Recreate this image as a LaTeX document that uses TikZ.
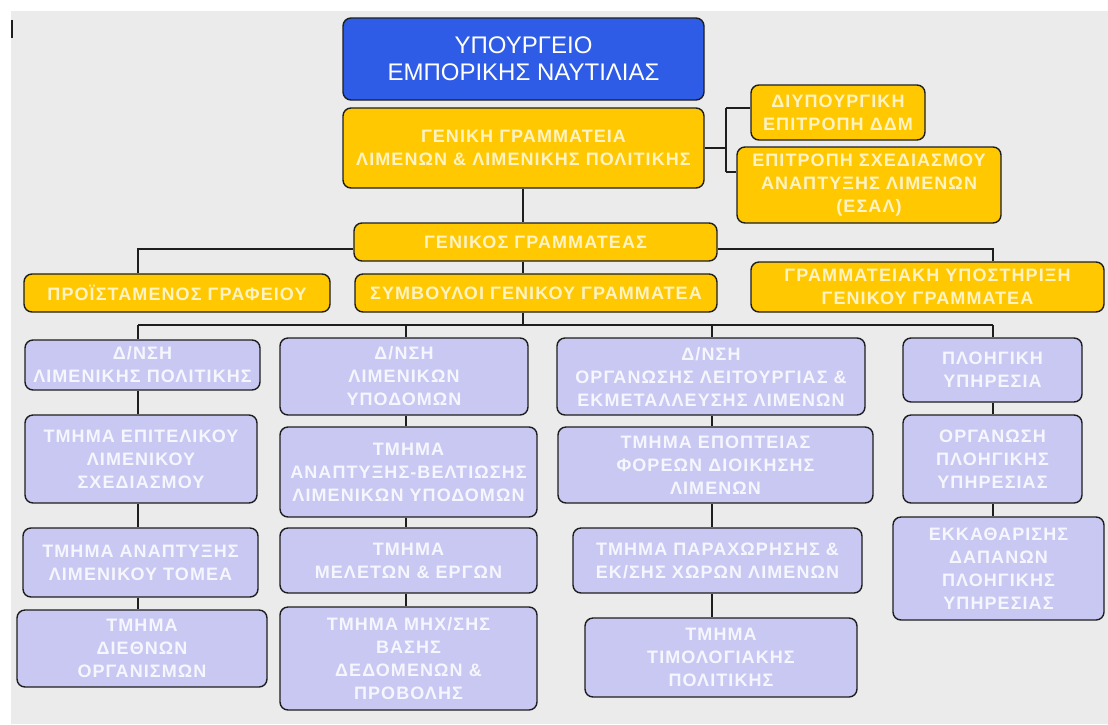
\documentclass[tikz,border=0pt]{standalone}
\usepackage{fontspec}
\setmainfont{Liberation Sans}
\newfontfamily\boxfont[LetterSpace=6]{Liberation Sans}
\usepackage{tikz}

\definecolor{bg}{HTML}{EBEBEB}
\definecolor{edge}{HTML}{1E1E1E}
\definecolor{royal}{HTML}{2E5CE6}
\definecolor{gold}{HTML}{FFC800}
\definecolor{goldtxt}{HTML}{FFF3C4}
\definecolor{lav}{HTML}{C8C8F2}
\definecolor{lavtxt}{HTML}{F6F6FF}

\begin{document}
\begin{tikzpicture}[x=1pt, y=-1pt, base/.style={draw=edge, line width=1.4pt, rounded corners=8pt, align=center, inner sep=2pt}, sz/.style 2 args={minimum width=#1pt, minimum height=#2pt}, mini/.style={base, fill=royal, text=white, font=\fontsize{24}{27}\selectfont}, gold/.style={base, fill=gold, text=goldtxt, font=\boxfont\bfseries\fontsize{18}{23}\selectfont}, lav/.style={base, fill=lav, text=lavtxt, font=\boxfont\bfseries\fontsize{18}{23}\selectfont}, n/.style={draw=edge, line width=1.3pt}]
            \useasboundingbox (0,0) rectangle (1108,724);
            \fill[white] (0,0) rectangle (1108,724);
            \fill[bg] (11,11) rectangle (1108,724);
            \draw[edge, line width=2pt] (12,20) -- (12,38);
            % nodes
            \node[mini, sz={361}{82}] (minis) at (523.5,59) {ΥΠΟΥΡΓΕΙΟ\\ΕΜΠΟΡΙΚΗΣ ΝΑΥΤΙΛΙΑΣ};
            \node[gold, sz={361}{80}] (gg) at (523.5,148) {ΓΕΝΙΚΗ ΓΡΑΜΜΑΤΕΙΑ\\ΛΙΜΕΝΩΝ \& ΛΙΜΕΝΙΚΗΣ ΠΟΛΙΤΙΚΗΣ};
            \node[gold, sz={174}{55}] (diy) at (838,112.5) {ΔΙΥΠΟΥΡΓΙΚΗ\\ΕΠΙΤΡΟΠΗ ΔΔΜ};
            \node[gold, sz={264}{76}] (esal) at (869,185) {ΕΠΙΤΡΟΠΗ ΣΧΕΔΙΑΣΜΟΥ\\ΑΝΑΠΤΥΞΗΣ ΛΙΜΕΝΩΝ\\(ΕΣΑΛ)};
            \node[gold, sz={363}{38}] (gs) at (535.5,242) {ΓΕΝΙΚΟΣ ΓΡΑΜΜΑΤΕΑΣ};
            \node[gold, sz={306}{38}] (proist) at (177,293) {ΠΡΟΪΣΤΑΜΕΝΟΣ ΓΡΑΦΕΙΟΥ};
            \node[gold, sz={362}{38}] (symv) at (536,293) {ΣΥΜΒΟΥΛΟΙ ΓΕΝΙΚΟΥ ΓΡΑΜΜΑΤΕΑ};
            \node[gold, sz={353}{50}] (gramm) at (927.5,287) {ΓΡΑΜΜΑΤΕΙΑΚΗ ΥΠΟΣΤΗΡΙΞΗ\\ΓΕΝΙΚΟΥ ΓΡΑΜΜΑΤΕΑ};
            \node[lav, sz={235}{50}] (c1a) at (142.5,365) {Δ/ΝΣΗ\\ΛΙΜΕΝΙΚΗΣ ΠΟΛΙΤΙΚΗΣ};
            \node[lav, sz={232}{88}] (c1b) at (141,459) {ΤΜΗΜΑ ΕΠΙΤΕΛΙΚΟΥ\\ΛΙΜΕΝΙΚΟΥ\\ΣΧΕΔΙΑΣΜΟΥ};
            \node[lav, sz={235}{69}] (c1c) at (140.5,562.5) {ΤΜΗΜΑ ΑΝΑΠΤΥΞΗΣ\\ΛΙΜΕΝΙΚΟΥ ΤΟΜΕΑ};
            \node[lav, sz={250}{77}] (c1d) at (142,648.5) {ΤΜΗΜΑ\\ΔΙΕΘΝΩΝ\\ΟΡΓΑΝΙΣΜΩΝ};
            \node[lav, sz={248}{77}] (c2a) at (404,376.5) {Δ/ΝΣΗ\\ΛΙΜΕΝΙΚΩΝ\\ΥΠΟΔΟΜΩΝ};
            \node[lav, sz={257}{90}] (c2b) at (408.5,472) {ΤΜΗΜΑ\\ΑΝΑΠΤΥΞΗΣ-ΒΕΛΤΙΩΣΗΣ\\ΛΙΜΕΝΙΚΩΝ ΥΠΟΔΟΜΩΝ};
            \node[lav, sz={257}{65}] (c2c) at (408.5,560.5) {ΤΜΗΜΑ\\ΜΕΛΕΤΩΝ \& ΕΡΓΩΝ};
            \node[lav, sz={257}{103}] (c2d) at (408.5,658.5) {ΤΜΗΜΑ ΜΗΧ/ΣΗΣ\\ΒΑΣΗΣ\\ΔΕΔΟΜΕΝΩΝ \&\\ΠΡΟΒΟΛΗΣ};
            \node[lav, sz={308}{77}] (c3a) at (711,376.5) {Δ/ΝΣΗ\\ΟΡΓΑΝΩΣΗΣ ΛΕΙΤΟΥΡΓΙΑΣ \&\\ΕΚΜΕΤΑΛΛΕΥΣΗΣ ΛΙΜΕΝΩΝ};
            \node[lav, sz={315}{76}] (c3b) at (715.5,465) {ΤΜΗΜΑ ΕΠΟΠΤΕΙΑΣ\\ΦΟΡΕΩΝ ΔΙΟΙΚΗΣΗΣ\\ΛΙΜΕΝΩΝ};
            \node[lav, sz={289}{65}] (c3c) at (717.5,560.5) {ΤΜΗΜΑ ΠΑΡΑΧΩΡΗΣΗΣ \&\\ΕΚ/ΣΗΣ ΧΩΡΩΝ ΛΙΜΕΝΩΝ};
            \node[lav, sz={272}{79}] (c3d) at (721,657.5) {ΤΜΗΜΑ\\ΤΙΜΟΛΟΓΙΑΚΗΣ\\ΠΟΛΙΤΙΚΗΣ};
            \node[lav, sz={179}{64}] (c4a) at (992.5,370) {ΠΛΟΗΓΙΚΗ\\ΥΠΗΡΕΣΙΑ};
            \node[lav, sz={179}{88}] (c4b) at (992.5,459) {ΟΡΓΑΝΩΣΗ\\ΠΛΟΗΓΙΚΗΣ\\ΥΠΗΡΕΣΙΑΣ};
            \node[lav, sz={211}{103}] (c4c) at (998.5,568.5) {ΕΚΚΑΘΑΡΙΣΗΣ\\ΔΑΠΑΝΩΝ\\ΠΛΟΗΓΙΚΗΣ\\ΥΠΗΡΕΣΙΑΣ};
            % junctions
            \coordinate (j1) at (726,148);
            \coordinate (j2) at (726,108);
            \coordinate (j3) at (726,172);
            \coordinate (g1) at (138,249);
            \coordinate (g2) at (993,249);
            \coordinate (sp) at (523,325);
            \coordinate (b1) at (138,325);
            \coordinate (b2) at (406,325);
            \coordinate (b3) at (712,325);
            \coordinate (b4) at (993,325);
            % edges
            \draw[n] (gg.east) -- (j1);
            \draw[n] (j2) -- (j3);
            \draw[n] (j2) -- (j2 -| diy.west);
            \draw[n] (j3) -- (j3 -| esal.west);
            \draw[n] (gg.south -| sp) -- (gs.north -| sp);
            \draw[n] (gs.south -| sp) -- (symv.north -| sp);
            \draw[n] (symv.south -| sp) -- (sp);
            \draw[n] (gs.west |- g1) -- (g1) -- (proist.north -| g1);
            \draw[n] (gs.east |- g2) -- (g2) -- (gramm.north -| g2);
            \draw[n] (b1) -- (b4);
            \draw[n] (b1) -- (c1a.north -| b1);
            \draw[n] (c1a.south -| b1) -- (c1b.north -| b1);
            \draw[n] (c1b.south -| b1) -- (c1c.north -| b1);
            \draw[n] (c1c.south -| b1) -- (c1d.north -| b1);
            \draw[n] (b2) -- (c2a.north -| b2);
            \draw[n] (c2a.south -| b2) -- (c2b.north -| b2);
            \draw[n] (c2b.south -| b2) -- (c2c.north -| b2);
            \draw[n] (c2c.south -| b2) -- (c2d.north -| b2);
            \draw[n] (b3) -- (c3a.north -| b3);
            \draw[n] (c3a.south -| b3) -- (c3b.north -| b3);
            \draw[n] (c3b.south -| b3) -- (c3c.north -| b3);
            \draw[n] (c3c.south -| b3) -- (c3d.north -| b3);
            \draw[n] (b4) -- (c4a.north -| b4);
            \draw[n] (c4a.south -| b4) -- (c4b.north -| b4);
            \draw[n] (c4b.south -| b4) -- (c4c.north -| b4);
        \end{tikzpicture}
\end{document}
